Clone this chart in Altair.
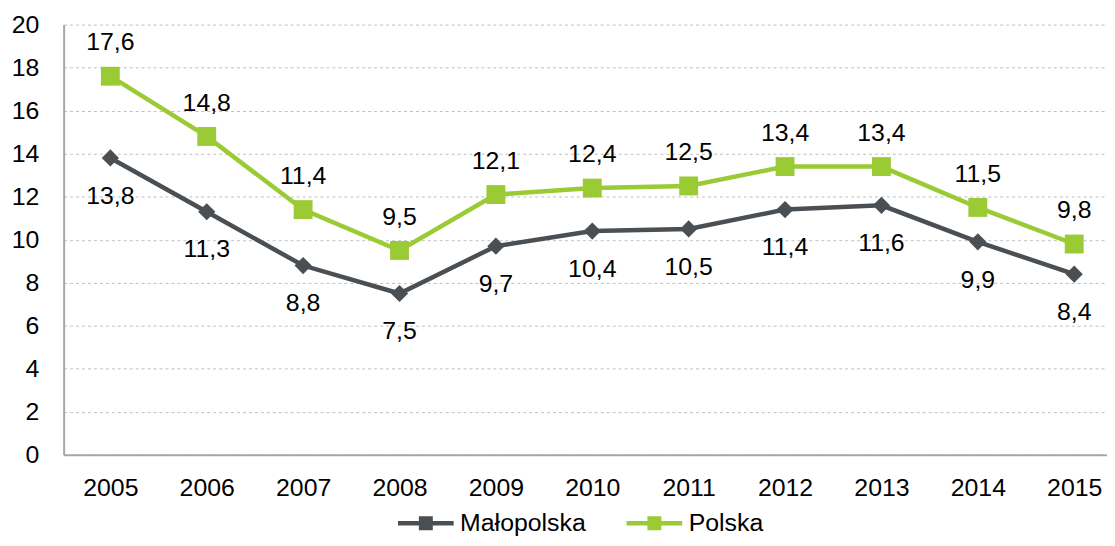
import altair as alt
import pandas as pd

years = ["2005", "2006", "2007", "2008", "2009", "2010", "2011", "2012", "2013", "2014", "2015"]
malopolska = [13.8, 11.3, 8.8, 7.5, 9.7, 10.4, 10.5, 11.4, 11.6, 9.9, 8.4]
polska = [17.6, 14.8, 11.4, 9.5, 12.1, 12.4, 12.5, 13.4, 13.4, 11.5, 9.8]
series = ["Małopolska", "Polska"]
colors = ["#4a4f54", "#9acb34"]

rows = []
for name, vals in zip(series, [malopolska, polska]):
    for yr, v in zip(years, vals):
        rows.append({"rok": yr, "seria": name, "wartosc": v,
                     "etykieta": f"{v:.1f}".replace(".", ",")})
df = pd.DataFrame(rows)

FONT = "Liberation Sans"
FS = 25

# legend glyph: a line segment with a marker on it (stroked path)
leg_path = ("M-1,0L1,0 M-0.17,-0.17L0.17,-0.17L0.17,0.17L-0.17,0.17Z "
            "M-0.09,-0.09L0.09,-0.09L0.09,0.09L-0.09,0.09Z")

legend = alt.Legend(
    title=None, orient="none", legendX=334, legendY=471, direction="horizontal",
    symbolType=leg_path, symbolSize=3136, symbolStrokeWidth=4.5, symbolOpacity=1,
    labelFont=FONT, labelFontSize=FS, labelColor="#000000",
    labelOffset=4, columnPadding=31,
)

x = alt.X("rok:O", title=None,
          scale=alt.Scale(type="point", padding=0.4124, align=0.5875),
          axis=alt.Axis(labelAngle=0, ticks=False, grid=False, labelPadding=21,
                        domainColor="#a6a6a6", domainWidth=2))
y = alt.Y("wartosc:Q", title=None,
          scale=alt.Scale(domain=[0, 20], nice=False),
          axis=alt.Axis(values=list(range(0, 21, 2)), grid=True, gridDash=[3, 3],
                        gridColor="#bfbfbf", gridWidth=1, ticks=False,
                        domainColor="#a6a6a6", domainWidth=2, labelPadding=25))
cscale = alt.Scale(domain=series, range=colors)

lines = alt.Chart().mark_line(strokeWidth=4.5).encode(
    x=x, y=y, color=alt.Color("seria:N", scale=cscale, legend=legend))
pts_m = alt.Chart().transform_filter(alt.datum.seria == "Małopolska").mark_point(
    filled=True, opacity=1, shape="diamond", size=300, color=colors[0]).encode(x=x, y=y)
pts_p = alt.Chart().transform_filter(alt.datum.seria == "Polska").mark_point(
    filled=True, opacity=1, shape="square", size=361, color=colors[1]).encode(x=x, y=y)
text_m = alt.Chart().transform_filter(alt.datum.seria == "Małopolska").mark_text(
    dy=38, font=FONT, fontSize=FS, color="#000000").encode(x=x, y=y, text="etykieta:N")
text_p = alt.Chart().transform_filter(alt.datum.seria == "Polska").mark_text(
    dy=-34, font=FONT, fontSize=FS, color="#000000").encode(x=x, y=y, text="etykieta:N")

chart = alt.layer(lines, pts_m, pts_p, text_m, text_p, data=df).properties(
    width=1050, height=433,
    padding={"left": 56, "top": 15, "right": 0, "bottom": 82},
    autosize=alt.AutoSizeParams(type="none"),
).configure_view(stroke=None).configure_axis(
    labelFont=FONT, labelFontSize=FS, labelColor="#000000"
)

chart.save("out.html", embed_options={"renderer": "svg", "actions": False})
